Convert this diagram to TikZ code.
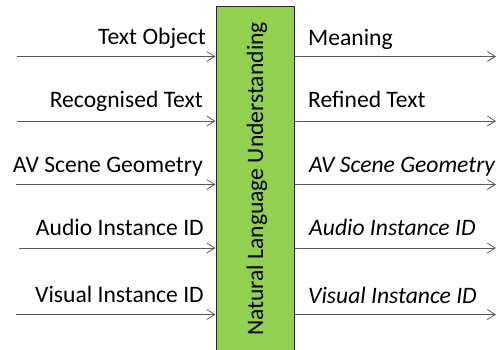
\documentclass[tikz,border=0pt]{standalone}
\usepackage{fontspec}
\setmainfont{Carlito}
\usetikzlibrary{arrows.meta}
\definecolor{nlugreen}{HTML}{92D050}
\definecolor{arrgray}{HTML}{595959}
\begin{document}
\begin{tikzpicture}[x=1pt,y=-1pt,
  lbl/.style={inner sep=0pt,font=\fontsize{23.6}{28}\selectfont},
  arr/.style={draw=arrgray,line width=0.9pt,-{Straight Barb[length=8pt,width=10pt,line width=0.8pt]}},
  nlubox/.style={draw=black!85,line width=1pt,fill=nlugreen,minimum width=78pt,minimum height=360pt,inner sep=0pt}]
\clip (0,0) rectangle (500,349);
\node[nlubox] (nlu) at (255,186) {};
\node[lbl,rotate=90,anchor=base] (nlut) at (263,179) {Natural Language Understanding};
% left inputs
\coordinate (l1) at (17,56.5);
\coordinate (l2) at (17,121);
\coordinate (l3) at (16,184.5);
\coordinate (l4) at (19,248);
\coordinate (l5) at (16,314.5);
\foreach \i in {1,...,5}{\draw[arr] (l\i) -- (l\i -| nlu.west);}
\node[lbl,anchor=base east] (t1) at (206,44) {Text Object};
\node[lbl,anchor=base east] (t2) at (203,107) {Recognised Text};
\node[lbl,anchor=base east] (t3) at (203,172) {AV Scene Geometry};
\node[lbl,anchor=base east] (t4) at (204,235) {Audio Instance ID};
\node[lbl,anchor=base east] (t5) at (204,302) {Visual Instance ID};
% right outputs
\coordinate (r1) at (496,56.5);
\coordinate (r2) at (496,121);
\coordinate (r3) at (496,184.5);
\coordinate (r4) at (496,248);
\coordinate (r5) at (496,314.5);
\foreach \i in {1,...,5}{\draw[arr] (r\i -| nlu.east) -- (r\i);}
\node[lbl,anchor=base west] (o1) at (308,45) {Meaning};
\node[lbl,anchor=base west] (o2) at (308,107) {Refined Text};
\node[lbl,anchor=base west] (o3) at (309,172) {\itshape AV Scene Geometry};
\node[lbl,anchor=base west] (o4) at (309,235) {\itshape Audio Instance ID};
\node[lbl,anchor=base west] (o5) at (308,303) {\itshape Visual Instance ID};
\end{tikzpicture}
\end{document}
